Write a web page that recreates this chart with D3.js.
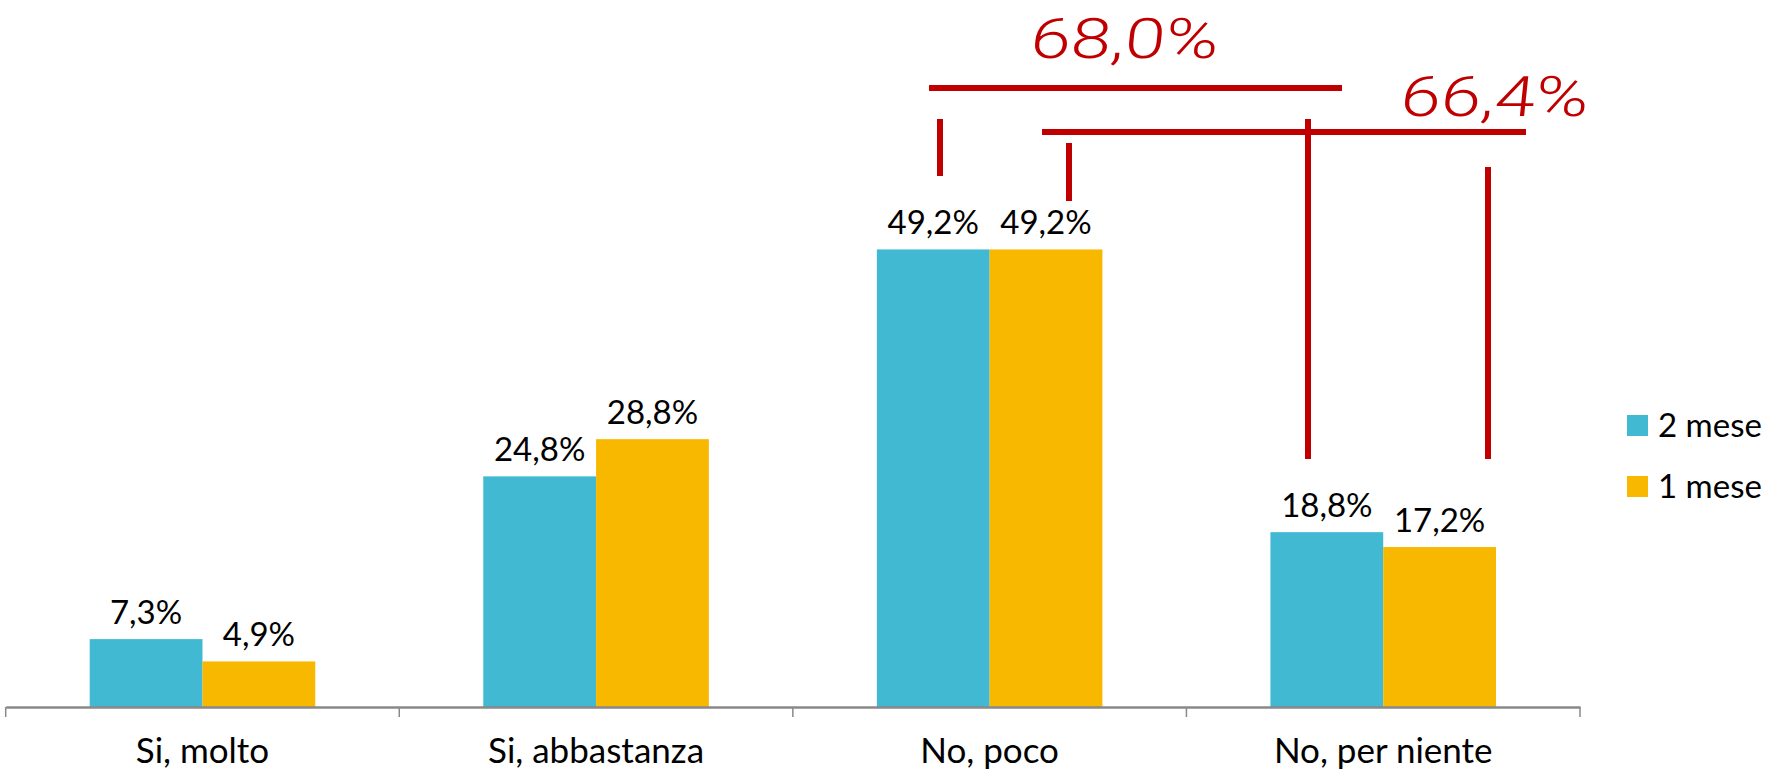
<!DOCTYPE html>
<html><head><meta charset="utf-8">
<script src="https://cdn.jsdelivr.net/npm/d3@7"></script>
<style>body{margin:0;background:#fff}svg{display:block}</style>
</head><body>
<svg id="c" width="1772" height="778"></svg>
<script>
const categories = ["Si, molto", "Si, abbastanza", "No, poco", "No, per niente"];
const seriesNames = ["2 mese", "1 mese"];
const values2mese = [7.3, 24.8, 49.2, 18.8];
const values1mese = [4.9, 28.8, 49.2, 17.2];
const valueLabels2 = ["7,3%", "24,8%", "49,2%", "18,8%"];
const valueLabels1 = ["4,9%", "28,8%", "49,2%", "17,2%"];
const colors = ["#41B9D3", "#F9B800"];
const annotRed = "#C00000";

const svg = d3.select("#c");
const x = d3.scaleBand().domain(categories).range([5.7, 1580]).paddingInner(0).paddingOuter(0);
const xs = d3.scaleBand().domain(seriesNames).range([84, x.bandwidth() - 84]).padding(0);
const y = d3.scaleLinear().domain([0, 60]).range([707, 707 - 60 * 9.3]);
const font = "Lato, 'Open Sans', sans-serif";

const data = categories.map((c, i) => ({c, vals: [values2mese[i], values1mese[i]], labs: [valueLabels2[i], valueLabels1[i]]}));

const g = svg.append("g");
data.forEach(d => {
  d.vals.forEach((v, j) => {
    const bx = x(d.c) + xs(seriesNames[j]);
    g.append("rect").attr("x", bx).attr("y", y(v)).attr("width", xs.bandwidth()).attr("height", y(0) - y(v)).attr("fill", colors[j]);
    g.append("text").attr("x", bx + xs.bandwidth() / 2).attr("y", y(v) - 15)
      .attr("text-anchor", "middle").attr("font-family", font).attr("font-size", 33).attr("fill", "#000")
      .text(d.labs[j]);
  });
});

// axis
const axis = d3.axisBottom(x).tickSize(0).tickFormat(d => d);
const ag = svg.append("g").attr("transform", `translate(0,${y(0)})`).call(axis);
ag.select(".domain").attr("stroke", "#898989").attr("stroke-width", 2.5);
ag.selectAll(".tick text").attr("font-family", font).attr("font-size", 35).attr("fill", "#000").attr("dy", 0).attr("y", 56);
const edges = categories.map(c => x(c)).concat([x(categories[categories.length - 1]) + x.bandwidth()]);
ag.selectAll("line.edge").data(edges).enter().append("line").attr("class", "edge")
  .attr("x1", d => d).attr("x2", d => d).attr("y1", 0).attr("y2", 10)
  .attr("stroke", "#898989").attr("stroke-width", 1.5);

// legend
const lg = svg.append("g");
seriesNames.forEach((s, i) => {
  lg.append("rect").attr("x", 1627).attr("y", 415 + i * 61).attr("width", 21).attr("height", 21).attr("fill", colors[i]);
  lg.append("text").attr("x", 1658).attr("y", 437 + i * 61).attr("font-family", font).attr("font-size", 33).attr("fill", "#000").text(s);
});

// annotations
const an = svg.append("g").attr("stroke", annotRed).attr("stroke-width", 6).attr("fill", "none");
const segs = [
  [929, 88, 1342, 88],
  [940, 119, 940, 176],
  [1042, 132, 1526, 132],
  [1069, 143, 1069, 201],
  [1308, 119, 1308, 459],
  [1488, 167, 1488, 459]
];
segs.forEach(s => an.append("line").attr("x1", s[0]).attr("y1", s[1]).attr("x2", s[2]).attr("y2", s[3]));

const annotTexts = [
  {t: "68,0%", x: 1123, y: 58},
  {t: "66,4%", x: 1493, y: 116}
];
annotTexts.forEach(a => {
  svg.append("text").attr("x", a.x).attr("y", a.y).attr("text-anchor", "middle")
    .attr("font-family", "Roboto, 'DejaVu Sans', sans-serif").attr("font-weight", 300)
    .attr("font-size", 56).attr("fill", annotRed).attr("textLength", 188).attr("lengthAdjust", "spacingAndGlyphs")
    .attr("transform", `skewX(-6) translate(${a.y * Math.tan(6 * Math.PI / 180)},0)`)
    .text(a.t);
});
</script>
</body></html>
